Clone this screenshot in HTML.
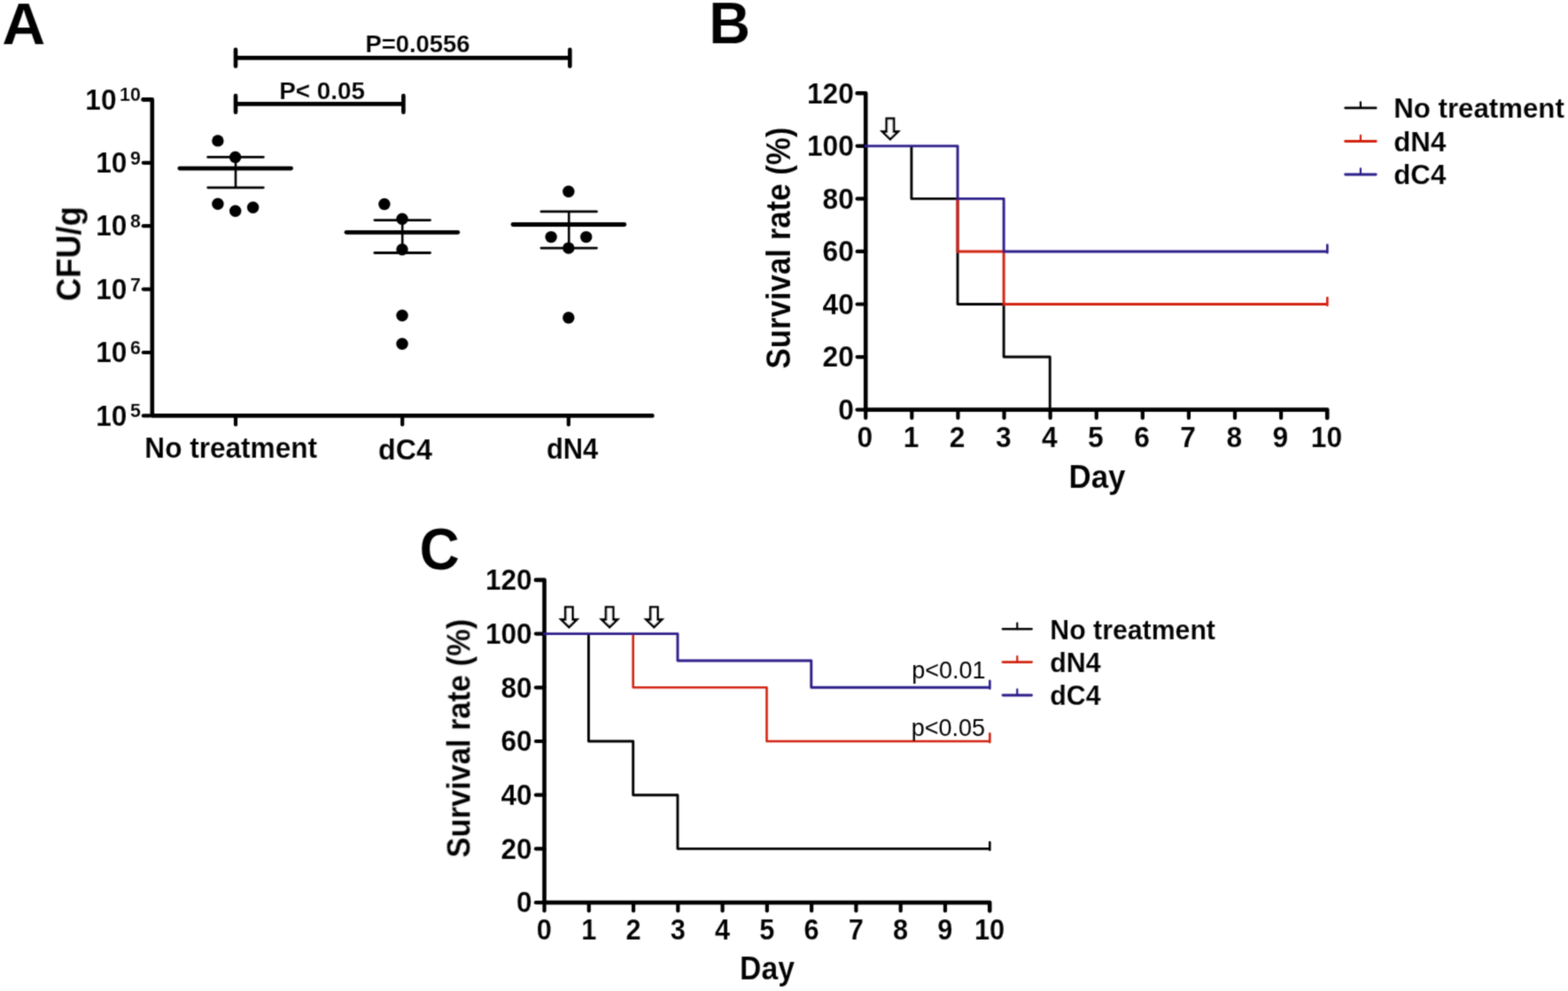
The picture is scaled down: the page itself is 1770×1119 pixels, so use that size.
<!DOCTYPE html>
<html lang="en">
<head>
<meta charset="utf-8">
<title>Figure</title>
<style>
html,body{margin:0;padding:0;background:#fff;}
body{width:1770px;height:1119px;overflow:hidden;}
svg{display:block;font-family:"Liberation Sans",Arial,Helvetica,sans-serif;}
</style>
</head>
<body>
<svg width="1770" height="1119" viewBox="0 0 1770 1119">
<defs><filter id="soft" x="0" y="0" width="1770" height="1119" filterUnits="userSpaceOnUse"><feConvolveMatrix order="3" kernelMatrix="0.0361 0.1178 0.0361 0.1178 0.3846 0.1178 0.0361 0.1178 0.0361" divisor="1" bias="0" edgeMode="duplicate" preserveAlpha="false"/></filter></defs>
<rect x="0" y="0" width="1770" height="1119" fill="#fff"/>
<g filter="url(#soft)">
<text transform="translate(2.2 49.5) scale(1.03 1)" font-size="66" font-weight="bold" text-anchor="start" fill="#060606" stroke="#fff" stroke-opacity="0.25" stroke-width="0.3">A</text>
<text transform="translate(800.2 49.0) scale(0.975 1)" font-size="66.5" font-weight="bold" text-anchor="start" fill="#060606" stroke="#fff" stroke-opacity="0.25" stroke-width="0.3">B</text>
<text transform="translate(473.4 642.6) scale(0.95 1)" font-size="66" font-weight="bold" text-anchor="start" fill="#060606" stroke="#fff" stroke-opacity="0.25" stroke-width="0.3">C</text>
<path d="M161.5 112.4 H171.8 V469.4 H736.4" fill="none" stroke="#060606" stroke-width="4.6" stroke-linecap="round" stroke-linejoin="round"/>
<line x1="161.8" y1="112.4" x2="168.8" y2="112.4" stroke="#060606" stroke-width="4.2" stroke-linecap="round"/>
<text transform="translate(158.8 114.4) scale(0.96 1)" font-size="22.2" font-weight="bold" text-anchor="end" fill="#060606" stroke="#fff" stroke-opacity="0.25" stroke-width="0.3">10</text>
<text transform="translate(131.5 123.6) scale(0.93 1)" font-size="34" font-weight="bold" text-anchor="end" fill="#060606" stroke="#fff" stroke-opacity="0.25" stroke-width="0.3">10</text>
<line x1="161.8" y1="183.8" x2="171.8" y2="183.8" stroke="#060606" stroke-width="4.2" stroke-linecap="round"/>
<text transform="translate(158.8 185.8) scale(0.96 1)" font-size="22.2" font-weight="bold" text-anchor="end" fill="#060606" stroke="#fff" stroke-opacity="0.25" stroke-width="0.3">9</text>
<text transform="translate(143.35 195.0) scale(0.93 1)" font-size="34" font-weight="bold" text-anchor="end" fill="#060606" stroke="#fff" stroke-opacity="0.25" stroke-width="0.3">10</text>
<line x1="161.8" y1="255.20000000000002" x2="171.8" y2="255.20000000000002" stroke="#060606" stroke-width="4.2" stroke-linecap="round"/>
<text transform="translate(158.8 257.2) scale(0.96 1)" font-size="22.2" font-weight="bold" text-anchor="end" fill="#060606" stroke="#fff" stroke-opacity="0.25" stroke-width="0.3">8</text>
<text transform="translate(143.35 266.4) scale(0.93 1)" font-size="34" font-weight="bold" text-anchor="end" fill="#060606" stroke="#fff" stroke-opacity="0.25" stroke-width="0.3">10</text>
<line x1="161.8" y1="326.6" x2="171.8" y2="326.6" stroke="#060606" stroke-width="4.2" stroke-linecap="round"/>
<text transform="translate(158.8 328.6) scale(0.96 1)" font-size="22.2" font-weight="bold" text-anchor="end" fill="#060606" stroke="#fff" stroke-opacity="0.25" stroke-width="0.3">7</text>
<text transform="translate(143.35 337.8) scale(0.93 1)" font-size="34" font-weight="bold" text-anchor="end" fill="#060606" stroke="#fff" stroke-opacity="0.25" stroke-width="0.3">10</text>
<line x1="161.8" y1="398.0" x2="171.8" y2="398.0" stroke="#060606" stroke-width="4.2" stroke-linecap="round"/>
<text transform="translate(158.8 400.0) scale(0.96 1)" font-size="22.2" font-weight="bold" text-anchor="end" fill="#060606" stroke="#fff" stroke-opacity="0.25" stroke-width="0.3">6</text>
<text transform="translate(143.35 409.2) scale(0.93 1)" font-size="34" font-weight="bold" text-anchor="end" fill="#060606" stroke="#fff" stroke-opacity="0.25" stroke-width="0.3">10</text>
<line x1="161.8" y1="469.4" x2="168.8" y2="469.4" stroke="#060606" stroke-width="4.2" stroke-linecap="round"/>
<text transform="translate(158.8 471.4) scale(0.96 1)" font-size="22.2" font-weight="bold" text-anchor="end" fill="#060606" stroke="#fff" stroke-opacity="0.25" stroke-width="0.3">5</text>
<text transform="translate(143.35 480.6) scale(0.93 1)" font-size="34" font-weight="bold" text-anchor="end" fill="#060606" stroke="#fff" stroke-opacity="0.25" stroke-width="0.3">10</text>
<text transform="translate(90.8 286.6) rotate(-90) scale(0.93 1)" font-size="39" font-weight="bold" text-anchor="middle" fill="#060606" stroke="#fff" stroke-opacity="0.25" stroke-width="0.3">CFU/g</text>
<line x1="266" y1="469.4" x2="266" y2="479.4" stroke="#060606" stroke-width="4.2" stroke-linecap="round"/>
<line x1="454.2" y1="469.4" x2="454.2" y2="479.4" stroke="#060606" stroke-width="4.2" stroke-linecap="round"/>
<line x1="641.8" y1="469.4" x2="641.8" y2="479.4" stroke="#060606" stroke-width="4.2" stroke-linecap="round"/>
<text transform="translate(260.7 516.6) scale(0.957 1)" font-size="33" font-weight="bold" text-anchor="middle" fill="#060606" stroke="#fff" stroke-opacity="0.25" stroke-width="0.3">No treatment</text>
<text transform="translate(457.4 518.8) scale(0.99 1)" font-size="32.5" font-weight="bold" text-anchor="middle" fill="#060606" stroke="#fff" stroke-opacity="0.25" stroke-width="0.3">dC4</text>
<text transform="translate(646.1 518.2) scale(0.952 1)" font-size="32.5" font-weight="bold" text-anchor="middle" fill="#060606" stroke="#fff" stroke-opacity="0.25" stroke-width="0.3">dN4</text>
<line x1="266" y1="65.4" x2="643.3" y2="65.4" stroke="#060606" stroke-width="4.6" stroke-linecap="butt"/>
<line x1="266" y1="56.10000000000001" x2="266" y2="74.7" stroke="#060606" stroke-width="4.6" stroke-linecap="round"/>
<line x1="643.3" y1="56.10000000000001" x2="643.3" y2="74.7" stroke="#060606" stroke-width="4.6" stroke-linecap="round"/>
<text transform="translate(471.5 59.3) scale(0.96 1)" font-size="28.5" font-weight="bold" text-anchor="middle" fill="#060606" stroke="#fff" stroke-opacity="0.25" stroke-width="0.3">P=0.0556</text>
<line x1="266" y1="117.4" x2="455.4" y2="117.4" stroke="#060606" stroke-width="4.6" stroke-linecap="butt"/>
<line x1="266" y1="108.10000000000001" x2="266" y2="126.7" stroke="#060606" stroke-width="4.6" stroke-linecap="round"/>
<line x1="455.4" y1="108.10000000000001" x2="455.4" y2="126.7" stroke="#060606" stroke-width="4.6" stroke-linecap="round"/>
<text transform="translate(363.6 112.3) scale(0.976 1)" font-size="28.5" font-weight="bold" text-anchor="middle" fill="#060606" stroke="#fff" stroke-opacity="0.25" stroke-width="0.3">P&lt; 0.05</text>
<line x1="266" y1="177.4" x2="266" y2="211.8" stroke="#060606" stroke-width="2.6" stroke-linecap="butt"/>
<line x1="234.7" y1="177.4" x2="297.3" y2="177.4" stroke="#060606" stroke-width="2.8" stroke-linecap="round"/>
<line x1="234.7" y1="211.8" x2="297.3" y2="211.8" stroke="#060606" stroke-width="2.8" stroke-linecap="round"/>
<line x1="202.8" y1="190.10000000000002" x2="328.6" y2="190.10000000000002" stroke="#060606" stroke-width="4.8" stroke-linecap="round"/>
<circle cx="245.9" cy="158.9" r="6.7" fill="#060606"/>
<circle cx="265.6" cy="177.4" r="6.7" fill="#060606"/>
<circle cx="245.9" cy="230.2" r="6.7" fill="#060606"/>
<circle cx="265.7" cy="238.2" r="6.7" fill="#060606"/>
<circle cx="285.6" cy="234.2" r="6.7" fill="#060606"/>
<line x1="454.2" y1="248.6" x2="454.2" y2="285.5" stroke="#060606" stroke-width="2.6" stroke-linecap="butt"/>
<line x1="422.9" y1="248.6" x2="485.5" y2="248.6" stroke="#060606" stroke-width="2.8" stroke-linecap="round"/>
<line x1="422.9" y1="285.5" x2="485.5" y2="285.5" stroke="#060606" stroke-width="2.8" stroke-linecap="round"/>
<line x1="391.0" y1="262.3" x2="516.8" y2="262.3" stroke="#060606" stroke-width="4.8" stroke-linecap="round"/>
<circle cx="433.9" cy="230.5" r="6.7" fill="#060606"/>
<circle cx="454" cy="247.2" r="6.7" fill="#060606"/>
<circle cx="454" cy="281.7" r="6.7" fill="#060606"/>
<circle cx="454" cy="356.2" r="6.7" fill="#060606"/>
<circle cx="454" cy="388.3" r="6.7" fill="#060606"/>
<line x1="642.2" y1="238.9" x2="642.2" y2="280.1" stroke="#060606" stroke-width="2.6" stroke-linecap="butt"/>
<line x1="610.9000000000001" y1="238.9" x2="673.5" y2="238.9" stroke="#060606" stroke-width="2.8" stroke-linecap="round"/>
<line x1="610.9000000000001" y1="280.1" x2="673.5" y2="280.1" stroke="#060606" stroke-width="2.8" stroke-linecap="round"/>
<line x1="579.0" y1="253.5" x2="704.8000000000001" y2="253.5" stroke="#060606" stroke-width="4.8" stroke-linecap="round"/>
<circle cx="641.8" cy="216.3" r="6.7" fill="#060606"/>
<circle cx="622.1" cy="267.6" r="6.7" fill="#060606"/>
<circle cx="661.7" cy="267.6" r="6.7" fill="#060606"/>
<circle cx="641.8" cy="280.1" r="6.7" fill="#060606"/>
<circle cx="641.8" cy="358.7" r="6.7" fill="#060606"/>
<path d="M967.6 105.3 H977.2 V462.6 H1498.2 V471.90000000000003" fill="none" stroke="#060606" stroke-width="4.6" stroke-linecap="round" stroke-linejoin="round"/>
<line x1="967.6" y1="462.6" x2="975.2" y2="462.6" stroke="#060606" stroke-width="4.4" stroke-linecap="round"/>
<text transform="translate(963.8 474.0) scale(0.975 1)" font-size="32.5" font-weight="bold" text-anchor="end" fill="#060606" stroke="#fff" stroke-opacity="0.25" stroke-width="0.3">0</text>
<line x1="967.6" y1="403.05" x2="977.2" y2="403.05" stroke="#060606" stroke-width="4.2" stroke-linecap="round"/>
<text transform="translate(963.8 414.45) scale(0.975 1)" font-size="32.5" font-weight="bold" text-anchor="end" fill="#060606" stroke="#fff" stroke-opacity="0.25" stroke-width="0.3">20</text>
<line x1="967.6" y1="343.5" x2="977.2" y2="343.5" stroke="#060606" stroke-width="4.2" stroke-linecap="round"/>
<text transform="translate(963.8 354.9) scale(0.975 1)" font-size="32.5" font-weight="bold" text-anchor="end" fill="#060606" stroke="#fff" stroke-opacity="0.25" stroke-width="0.3">40</text>
<line x1="967.6" y1="283.95" x2="977.2" y2="283.95" stroke="#060606" stroke-width="4.2" stroke-linecap="round"/>
<text transform="translate(963.8 295.35) scale(0.975 1)" font-size="32.5" font-weight="bold" text-anchor="end" fill="#060606" stroke="#fff" stroke-opacity="0.25" stroke-width="0.3">60</text>
<line x1="967.6" y1="224.4" x2="977.2" y2="224.4" stroke="#060606" stroke-width="4.2" stroke-linecap="round"/>
<text transform="translate(963.8 235.8) scale(0.975 1)" font-size="32.5" font-weight="bold" text-anchor="end" fill="#060606" stroke="#fff" stroke-opacity="0.25" stroke-width="0.3">80</text>
<line x1="967.6" y1="164.85" x2="977.2" y2="164.85" stroke="#060606" stroke-width="4.2" stroke-linecap="round"/>
<text transform="translate(963.8 176.25) scale(0.975 1)" font-size="32.5" font-weight="bold" text-anchor="end" fill="#060606" stroke="#fff" stroke-opacity="0.25" stroke-width="0.3">100</text>
<text transform="translate(963.8 116.7) scale(0.975 1)" font-size="32.5" font-weight="bold" text-anchor="end" fill="#060606" stroke="#fff" stroke-opacity="0.25" stroke-width="0.3">120</text>
<line x1="977.2" y1="464.6" x2="977.2" y2="471.90000000000003" stroke="#060606" stroke-width="4.2" stroke-linecap="round"/>
<text transform="translate(976.4 504.5) scale(0.975 1)" font-size="32.5" font-weight="bold" text-anchor="middle" fill="#060606" stroke="#fff" stroke-opacity="0.25" stroke-width="0.3">0</text>
<line x1="1029.3" y1="464.6" x2="1029.3" y2="471.90000000000003" stroke="#060606" stroke-width="4.2" stroke-linecap="round"/>
<text transform="translate(1028.5 504.5) scale(0.975 1)" font-size="32.5" font-weight="bold" text-anchor="middle" fill="#060606" stroke="#fff" stroke-opacity="0.25" stroke-width="0.3">1</text>
<line x1="1081.4" y1="464.6" x2="1081.4" y2="471.90000000000003" stroke="#060606" stroke-width="4.2" stroke-linecap="round"/>
<text transform="translate(1080.6 504.5) scale(0.975 1)" font-size="32.5" font-weight="bold" text-anchor="middle" fill="#060606" stroke="#fff" stroke-opacity="0.25" stroke-width="0.3">2</text>
<line x1="1133.5" y1="464.6" x2="1133.5" y2="471.90000000000003" stroke="#060606" stroke-width="4.2" stroke-linecap="round"/>
<text transform="translate(1132.7 504.5) scale(0.975 1)" font-size="32.5" font-weight="bold" text-anchor="middle" fill="#060606" stroke="#fff" stroke-opacity="0.25" stroke-width="0.3">3</text>
<line x1="1185.6" y1="464.6" x2="1185.6" y2="471.90000000000003" stroke="#060606" stroke-width="4.2" stroke-linecap="round"/>
<text transform="translate(1184.8 504.5) scale(0.975 1)" font-size="32.5" font-weight="bold" text-anchor="middle" fill="#060606" stroke="#fff" stroke-opacity="0.25" stroke-width="0.3">4</text>
<line x1="1237.7" y1="464.6" x2="1237.7" y2="471.90000000000003" stroke="#060606" stroke-width="4.2" stroke-linecap="round"/>
<text transform="translate(1236.9 504.5) scale(0.975 1)" font-size="32.5" font-weight="bold" text-anchor="middle" fill="#060606" stroke="#fff" stroke-opacity="0.25" stroke-width="0.3">5</text>
<line x1="1289.8" y1="464.6" x2="1289.8" y2="471.90000000000003" stroke="#060606" stroke-width="4.2" stroke-linecap="round"/>
<text transform="translate(1289.0 504.5) scale(0.975 1)" font-size="32.5" font-weight="bold" text-anchor="middle" fill="#060606" stroke="#fff" stroke-opacity="0.25" stroke-width="0.3">6</text>
<line x1="1341.9" y1="464.6" x2="1341.9" y2="471.90000000000003" stroke="#060606" stroke-width="4.2" stroke-linecap="round"/>
<text transform="translate(1341.1 504.5) scale(0.975 1)" font-size="32.5" font-weight="bold" text-anchor="middle" fill="#060606" stroke="#fff" stroke-opacity="0.25" stroke-width="0.3">7</text>
<line x1="1394.0" y1="464.6" x2="1394.0" y2="471.90000000000003" stroke="#060606" stroke-width="4.2" stroke-linecap="round"/>
<text transform="translate(1393.2 504.5) scale(0.975 1)" font-size="32.5" font-weight="bold" text-anchor="middle" fill="#060606" stroke="#fff" stroke-opacity="0.25" stroke-width="0.3">8</text>
<line x1="1446.1" y1="464.6" x2="1446.1" y2="471.90000000000003" stroke="#060606" stroke-width="4.2" stroke-linecap="round"/>
<text transform="translate(1445.3 504.5) scale(0.975 1)" font-size="32.5" font-weight="bold" text-anchor="middle" fill="#060606" stroke="#fff" stroke-opacity="0.25" stroke-width="0.3">9</text>
<text transform="translate(1497.4 504.5) scale(0.975 1)" font-size="32.5" font-weight="bold" text-anchor="middle" fill="#060606" stroke="#fff" stroke-opacity="0.25" stroke-width="0.3">10</text>
<path d="M1028.9 164.85 L1028.9 224.4 L1081.0 224.4 L1081.0 343.5 L1133.1 343.5 L1133.1 403.05 L1185.2 403.05 L1185.2 462.6" fill="none" stroke="#060606" stroke-width="2.9" stroke-linejoin="round"/>
<path d="M1081.0 224.4 L1081.0 283.95 L1133.1 283.95 L1133.1 343.5 L1498.2 343.5" fill="none" stroke="#d2200e" stroke-width="2.9" stroke-linejoin="round"/>
<line x1="1498.3" y1="344.75" x2="1498.3" y2="336.2" stroke="#d2200e" stroke-width="2.6" stroke-linecap="round"/>
<path d="M976.0 164.85 L1081.0 164.85 L1081.0 224.4 L1133.1 224.4 L1133.1 283.95 L1498.2 283.95" fill="none" stroke="#2c1a88" stroke-width="2.9" stroke-linejoin="round"/>
<line x1="1498.3" y1="285.2" x2="1498.3" y2="276.65" stroke="#2c1a88" stroke-width="2.6" stroke-linecap="round"/>
<path d="M1000.8 133.9 H1009.0 V148.7 H1013.6 L1004.9 157.1 L996.1999999999999 148.7 H1000.8 Z" fill="#fff" stroke="#060606" stroke-width="2.7" stroke-linejoin="miter"/>
<text transform="translate(891.7 280.1) rotate(-90) scale(0.905 1)" font-size="38.5" font-weight="bold" text-anchor="middle" fill="#060606" stroke="#fff" stroke-opacity="0.25" stroke-width="0.3">Survival rate (%)</text>
<text transform="translate(1238.5 550.8) scale(0.93 1)" font-size="37.5" font-weight="bold" text-anchor="middle" fill="#060606" stroke="#fff" stroke-opacity="0.25" stroke-width="0.3">Day</text>
<line x1="1518.6" y1="121.9" x2="1553.2" y2="121.9" stroke="#060606" stroke-width="2.6" stroke-linecap="round"/>
<line x1="1535.9" y1="121.9" x2="1535.9" y2="115.30000000000001" stroke="#060606" stroke-width="2.2" stroke-linecap="round"/>
<text transform="translate(1573.3 133.2) scale(0.985 1)" font-size="31.7" font-weight="bold" text-anchor="start" fill="#060606" stroke="#fff" stroke-opacity="0.25" stroke-width="0.3">No treatment</text>
<line x1="1518.6" y1="159.5" x2="1553.2" y2="159.5" stroke="#d2200e" stroke-width="2.8" stroke-linecap="round"/>
<line x1="1535.9" y1="159.5" x2="1535.9" y2="152.9" stroke="#d2200e" stroke-width="2.2" stroke-linecap="round"/>
<text transform="translate(1573.3 170.8) scale(0.985 1)" font-size="31.7" font-weight="bold" text-anchor="start" fill="#060606" stroke="#fff" stroke-opacity="0.25" stroke-width="0.3">dN4</text>
<line x1="1518.6" y1="197.0" x2="1553.2" y2="197.0" stroke="#2c1a88" stroke-width="2.8" stroke-linecap="round"/>
<line x1="1535.9" y1="197.0" x2="1535.9" y2="190.4" stroke="#2c1a88" stroke-width="2.2" stroke-linecap="round"/>
<text transform="translate(1573.3 208.3) scale(0.985 1)" font-size="31.7" font-weight="bold" text-anchor="start" fill="#060606" stroke="#fff" stroke-opacity="0.25" stroke-width="0.3">dC4</text>
<path d="M604.9 654.9 H614.5 V1019.1 H1117.2 V1028.4" fill="none" stroke="#060606" stroke-width="4.6" stroke-linecap="round" stroke-linejoin="round"/>
<line x1="604.9" y1="1019.1" x2="612.5" y2="1019.1" stroke="#060606" stroke-width="4.4" stroke-linecap="round"/>
<text transform="translate(600.6 1030.3) scale(0.955 1)" font-size="33" font-weight="bold" text-anchor="end" fill="#060606" stroke="#fff" stroke-opacity="0.25" stroke-width="0.3">0</text>
<line x1="604.9" y1="958.4" x2="614.5" y2="958.4" stroke="#060606" stroke-width="4.2" stroke-linecap="round"/>
<text transform="translate(600.6 969.6) scale(0.955 1)" font-size="33" font-weight="bold" text-anchor="end" fill="#060606" stroke="#fff" stroke-opacity="0.25" stroke-width="0.3">20</text>
<line x1="604.9" y1="897.7" x2="614.5" y2="897.7" stroke="#060606" stroke-width="4.2" stroke-linecap="round"/>
<text transform="translate(600.6 908.9) scale(0.955 1)" font-size="33" font-weight="bold" text-anchor="end" fill="#060606" stroke="#fff" stroke-opacity="0.25" stroke-width="0.3">40</text>
<line x1="604.9" y1="837.0" x2="614.5" y2="837.0" stroke="#060606" stroke-width="4.2" stroke-linecap="round"/>
<text transform="translate(600.6 848.2) scale(0.955 1)" font-size="33" font-weight="bold" text-anchor="end" fill="#060606" stroke="#fff" stroke-opacity="0.25" stroke-width="0.3">60</text>
<line x1="604.9" y1="776.3" x2="614.5" y2="776.3" stroke="#060606" stroke-width="4.2" stroke-linecap="round"/>
<text transform="translate(600.6 787.5) scale(0.955 1)" font-size="33" font-weight="bold" text-anchor="end" fill="#060606" stroke="#fff" stroke-opacity="0.25" stroke-width="0.3">80</text>
<line x1="604.9" y1="715.6" x2="614.5" y2="715.6" stroke="#060606" stroke-width="4.2" stroke-linecap="round"/>
<text transform="translate(600.6 726.8) scale(0.955 1)" font-size="33" font-weight="bold" text-anchor="end" fill="#060606" stroke="#fff" stroke-opacity="0.25" stroke-width="0.3">100</text>
<text transform="translate(600.6 666.1) scale(0.955 1)" font-size="33" font-weight="bold" text-anchor="end" fill="#060606" stroke="#fff" stroke-opacity="0.25" stroke-width="0.3">120</text>
<line x1="614.5" y1="1021.1" x2="614.5" y2="1028.4" stroke="#060606" stroke-width="4.2" stroke-linecap="round"/>
<text transform="translate(614.4 1060.5) scale(0.93 1)" font-size="33" font-weight="bold" text-anchor="middle" fill="#060606" stroke="#fff" stroke-opacity="0.25" stroke-width="0.3">0</text>
<line x1="664.77" y1="1021.1" x2="664.77" y2="1028.4" stroke="#060606" stroke-width="4.2" stroke-linecap="round"/>
<text transform="translate(664.67 1060.5) scale(0.93 1)" font-size="33" font-weight="bold" text-anchor="middle" fill="#060606" stroke="#fff" stroke-opacity="0.25" stroke-width="0.3">1</text>
<line x1="715.04" y1="1021.1" x2="715.04" y2="1028.4" stroke="#060606" stroke-width="4.2" stroke-linecap="round"/>
<text transform="translate(714.94 1060.5) scale(0.93 1)" font-size="33" font-weight="bold" text-anchor="middle" fill="#060606" stroke="#fff" stroke-opacity="0.25" stroke-width="0.3">2</text>
<line x1="765.31" y1="1021.1" x2="765.31" y2="1028.4" stroke="#060606" stroke-width="4.2" stroke-linecap="round"/>
<text transform="translate(765.21 1060.5) scale(0.93 1)" font-size="33" font-weight="bold" text-anchor="middle" fill="#060606" stroke="#fff" stroke-opacity="0.25" stroke-width="0.3">3</text>
<line x1="815.58" y1="1021.1" x2="815.58" y2="1028.4" stroke="#060606" stroke-width="4.2" stroke-linecap="round"/>
<text transform="translate(815.48 1060.5) scale(0.93 1)" font-size="33" font-weight="bold" text-anchor="middle" fill="#060606" stroke="#fff" stroke-opacity="0.25" stroke-width="0.3">4</text>
<line x1="865.85" y1="1021.1" x2="865.85" y2="1028.4" stroke="#060606" stroke-width="4.2" stroke-linecap="round"/>
<text transform="translate(865.75 1060.5) scale(0.93 1)" font-size="33" font-weight="bold" text-anchor="middle" fill="#060606" stroke="#fff" stroke-opacity="0.25" stroke-width="0.3">5</text>
<line x1="916.12" y1="1021.1" x2="916.12" y2="1028.4" stroke="#060606" stroke-width="4.2" stroke-linecap="round"/>
<text transform="translate(916.02 1060.5) scale(0.93 1)" font-size="33" font-weight="bold" text-anchor="middle" fill="#060606" stroke="#fff" stroke-opacity="0.25" stroke-width="0.3">6</text>
<line x1="966.39" y1="1021.1" x2="966.39" y2="1028.4" stroke="#060606" stroke-width="4.2" stroke-linecap="round"/>
<text transform="translate(966.29 1060.5) scale(0.93 1)" font-size="33" font-weight="bold" text-anchor="middle" fill="#060606" stroke="#fff" stroke-opacity="0.25" stroke-width="0.3">7</text>
<line x1="1016.66" y1="1021.1" x2="1016.66" y2="1028.4" stroke="#060606" stroke-width="4.2" stroke-linecap="round"/>
<text transform="translate(1016.56 1060.5) scale(0.93 1)" font-size="33" font-weight="bold" text-anchor="middle" fill="#060606" stroke="#fff" stroke-opacity="0.25" stroke-width="0.3">8</text>
<line x1="1066.93" y1="1021.1" x2="1066.93" y2="1028.4" stroke="#060606" stroke-width="4.2" stroke-linecap="round"/>
<text transform="translate(1066.83 1060.5) scale(0.93 1)" font-size="33" font-weight="bold" text-anchor="middle" fill="#060606" stroke="#fff" stroke-opacity="0.25" stroke-width="0.3">9</text>
<text transform="translate(1117.1 1060.5) scale(0.93 1)" font-size="33" font-weight="bold" text-anchor="middle" fill="#060606" stroke="#fff" stroke-opacity="0.25" stroke-width="0.3">10</text>
<path d="M664.42 715.6 L664.42 837.0 L714.69 837.0 L714.69 897.7 L764.96 897.7 L764.96 958.4 L1117.2 958.4" fill="none" stroke="#060606" stroke-width="2.9" stroke-linejoin="round"/>
<line x1="1117.3" y1="959.65" x2="1117.3" y2="951.1" stroke="#060606" stroke-width="2.6" stroke-linecap="round"/>
<path d="M714.69 715.6 L714.69 776.3 L865.5 776.3 L865.5 837.0 L1117.2 837.0" fill="none" stroke="#d2200e" stroke-width="2.6" stroke-linejoin="round"/>
<line x1="1117.3" y1="838.0999999999999" x2="1117.3" y2="828.4" stroke="#d2200e" stroke-width="2.6" stroke-linecap="round"/>
<path d="M613.3 715.6 L764.96 715.6 L764.96 745.95 L915.77 745.95 L915.77 776.3 L1117.2 776.3" fill="none" stroke="#2c1a88" stroke-width="2.9" stroke-linejoin="round"/>
<line x1="1117.3" y1="777.55" x2="1117.3" y2="768.6999999999999" stroke="#2c1a88" stroke-width="2.6" stroke-linecap="round"/>
<path d="M638.1999999999999 685.5 H646.4 V699.6 H651.0 L642.3 708.0 L633.5999999999999 699.6 H638.1999999999999 Z" fill="#fff" stroke="#060606" stroke-width="2.7" stroke-linejoin="miter"/>
<path d="M684.0 685.5 H692.2 V699.6 H696.8000000000001 L688.1 708.0 L679.4 699.6 H684.0 Z" fill="#fff" stroke="#060606" stroke-width="2.7" stroke-linejoin="miter"/>
<path d="M734.1999999999999 685.5 H742.4 V699.6 H747.0 L738.3 708.0 L729.5999999999999 699.6 H734.1999999999999 Z" fill="#fff" stroke="#060606" stroke-width="2.7" stroke-linejoin="miter"/>
<text transform="translate(530.5 833.6) rotate(-90) scale(0.922 1)" font-size="37.3" font-weight="bold" text-anchor="middle" fill="#060606" stroke="#fff" stroke-opacity="0.25" stroke-width="0.3">Survival rate (%)</text>
<text transform="translate(866 1106.3) scale(0.923 1)" font-size="36.5" font-weight="bold" text-anchor="middle" fill="#060606" stroke="#fff" stroke-opacity="0.25" stroke-width="0.3">Day</text>
<line x1="1132" y1="710.3" x2="1164.5" y2="710.3" stroke="#060606" stroke-width="2.6" stroke-linecap="round"/>
<line x1="1148.25" y1="710.3" x2="1148.25" y2="703.6999999999999" stroke="#060606" stroke-width="2.2" stroke-linecap="round"/>
<text transform="translate(1185.3 721.9) scale(0.955 1)" font-size="31.7" font-weight="bold" text-anchor="start" fill="#060606" stroke="#fff" stroke-opacity="0.25" stroke-width="0.3">No treatment</text>
<line x1="1132" y1="747.6" x2="1164.5" y2="747.6" stroke="#d2200e" stroke-width="2.8" stroke-linecap="round"/>
<line x1="1148.25" y1="747.6" x2="1148.25" y2="741.0" stroke="#d2200e" stroke-width="2.2" stroke-linecap="round"/>
<text transform="translate(1185.3 758.6) scale(0.955 1)" font-size="31.7" font-weight="bold" text-anchor="start" fill="#060606" stroke="#fff" stroke-opacity="0.25" stroke-width="0.3">dN4</text>
<line x1="1132" y1="785.0" x2="1164.5" y2="785.0" stroke="#2c1a88" stroke-width="2.8" stroke-linecap="round"/>
<line x1="1148.25" y1="785.0" x2="1148.25" y2="778.4" stroke="#2c1a88" stroke-width="2.2" stroke-linecap="round"/>
<text transform="translate(1185.3 796.3) scale(0.955 1)" font-size="31.7" font-weight="bold" text-anchor="start" fill="#060606" stroke="#fff" stroke-opacity="0.25" stroke-width="0.3">dC4</text>
<text transform="translate(1112.4 766.1) scale(0.95 1)" font-size="28.4" font-weight="normal" text-anchor="end" fill="#060606">p&lt;0.01</text>
<text transform="translate(1112.0 831.1) scale(0.95 1)" font-size="28.4" font-weight="normal" text-anchor="end" fill="#060606">p&lt;0.05</text>
</g>
</svg>
</body>
</html>
